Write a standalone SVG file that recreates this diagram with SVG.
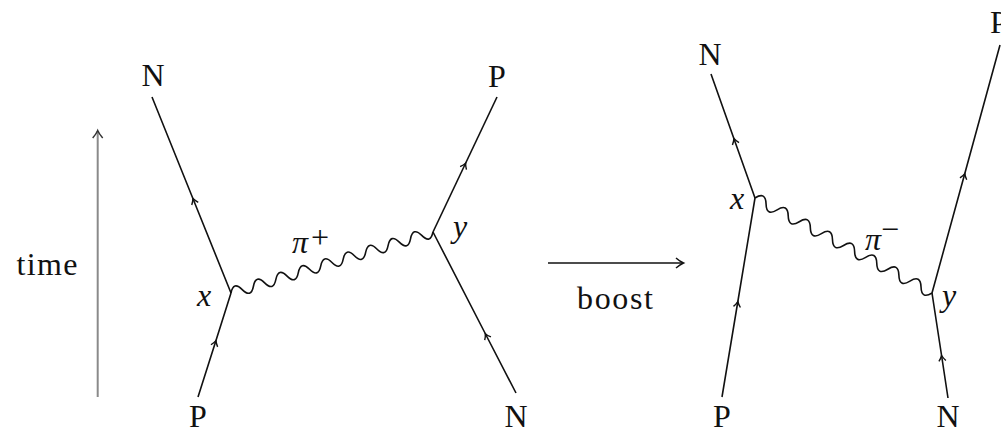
<svg xmlns="http://www.w3.org/2000/svg" width="1001" height="434" viewBox="0 0 1001 434">
<style>
.f{fill:none;stroke:#111;stroke-width:1.6;marker-mid:url(#fa)}
.w{fill:none;stroke:#111;stroke-width:1.6}
text{font-family:'Liberation Serif','DejaVu Serif','Times New Roman',serif;font-size:32px;fill:#111;text-anchor:middle}
.it{font-style:italic}
</style>
<defs>
<marker id="fa" markerUnits="userSpaceOnUse" markerWidth="14" markerHeight="14" refX="7" refY="7" orient="auto" viewBox="0 0 14 14">
<path d="M3,3.5 Q6,6 8.5,7 Q6,8 3,10.5" fill="none" stroke="#111" stroke-width="1.4"/>
</marker>
<marker id="ah" markerUnits="userSpaceOnUse" markerWidth="16" markerHeight="16" refX="12" refY="8" orient="auto" viewBox="0 0 16 16">
<path d="M5,3 Q9,6.5 12.5,8 Q9,9.5 5,13" fill="none" stroke="#111" stroke-width="1.5"/>
</marker>
<marker id="ahg" markerUnits="userSpaceOnUse" markerWidth="16" markerHeight="16" refX="12" refY="8" orient="auto" viewBox="0 0 16 16">
<path d="M5,3 Q9,6.5 12.5,8 Q9,9.5 5,13" fill="none" stroke="#333" stroke-width="1.5"/>
</marker>
</defs>
<rect width="1001" height="434" fill="#fff"/>

<g id="time-axis">
<line x1="97.7" y1="397" x2="97.7" y2="131" stroke="#8a8a8a" stroke-width="2" marker-end="url(#ahg)"/>
<text font-family="Liberation Serif, DejaVu Serif, serif" x="47" y="275" textLength="61">time</text>
</g>

<g id="boost-arrow">
<line x1="548" y1="263" x2="683" y2="263" stroke="#111" stroke-width="1.5" marker-end="url(#ah)"/>
<text font-family="Liberation Serif, DejaVu Serif, serif" x="615" y="309" textLength="76">boost</text>
</g>

<g id="connectors">
<path class="f" d="M231,293 L193.5,200 L152,97"/>
<path class="f" d="M198,397 L215.5,342 L231,293"/>
<path class="f" d="M433,232 L465,164.5 L497,97"/>
<path class="f" d="M516,393 L486,335 L433,232"/>
<path class="w" transform="translate(231,293) rotate(-16.8)" d="M0,0 q5.86,-11 11.72,0 t11.72,0 t11.72,0 t11.72,0 t11.72,0 t11.72,0 t11.72,0 t11.72,0 t11.72,0 t11.72,0 t11.72,0 t11.72,0 t11.72,0 t11.72,0 t11.72,0 t11.72,0 t11.72,0 t11.72,0"/>
<path class="f" d="M755,198 L734.4,140 L711,74"/>
<path class="f" d="M722,397 L737.6,303 L755,198"/>
<path class="f" d="M948,398 L941.8,357 L932,293"/>
<path class="f" d="M932,293 L964.4,175 L1000,45"/>
<path class="w" transform="translate(755,198) rotate(28.2)" d="M0,0 q6.28,-11 12.56,0 t12.56,0 t12.56,0 t12.56,0 t12.56,0 t12.56,0 t12.56,0 t12.56,0 t12.56,0 t12.56,0 t12.56,0 t12.56,0 t12.56,0 t12.56,0 t12.56,0 t12.56,0"/>
</g>

<g id="node-N-top-left"><text font-family="Liberation Serif, DejaVu Serif, serif" x="153" y="86">N</text></g>
<g id="node-P-bottom-left"><text font-family="Liberation Serif, DejaVu Serif, serif" x="198" y="427">P</text></g>
<g id="node-P-top-mid"><text font-family="Liberation Serif, DejaVu Serif, serif" x="497" y="87">P</text></g>
<g id="node-N-bottom-mid"><text font-family="Liberation Serif, DejaVu Serif, serif" x="516" y="427">N</text></g>
<g id="vertex-x-left"><text class="it" font-family="Liberation Serif, DejaVu Serif, serif" x="204" y="306">x</text></g>
<g id="vertex-y-left"><text class="it" font-family="Liberation Serif, DejaVu Serif, serif" x="460" y="237">y</text></g>
<g id="label-pi-plus"><text class="it" font-family="Liberation Serif, DejaVu Serif, serif" x="300" y="253">π</text><text font-family="Liberation Serif, DejaVu Serif, serif" x="320" y="248" font-size="26">+</text></g>

<g id="node-N-top-right"><text font-family="Liberation Serif, DejaVu Serif, serif" x="710" y="65">N</text></g>
<g id="node-P-top-right"><text font-family="Liberation Serif, DejaVu Serif, serif" x="990" y="33" text-anchor="start" style="text-anchor:start">P</text></g>
<g id="node-P-bottom-right"><text font-family="Liberation Serif, DejaVu Serif, serif" x="722" y="427">P</text></g>
<g id="node-N-bottom-right"><text font-family="Liberation Serif, DejaVu Serif, serif" x="948" y="427">N</text></g>
<g id="vertex-x-right"><text class="it" font-family="Liberation Serif, DejaVu Serif, serif" x="737" y="209">x</text></g>
<g id="vertex-y-right"><text class="it" font-family="Liberation Serif, DejaVu Serif, serif" x="949" y="306">y</text></g>
<g id="label-pi-minus"><text class="it" font-family="Liberation Serif, DejaVu Serif, serif" x="873" y="250">π</text><text font-family="Liberation Serif, DejaVu Serif, serif" x="890" y="240" font-size="26">−</text></g>
</svg>
